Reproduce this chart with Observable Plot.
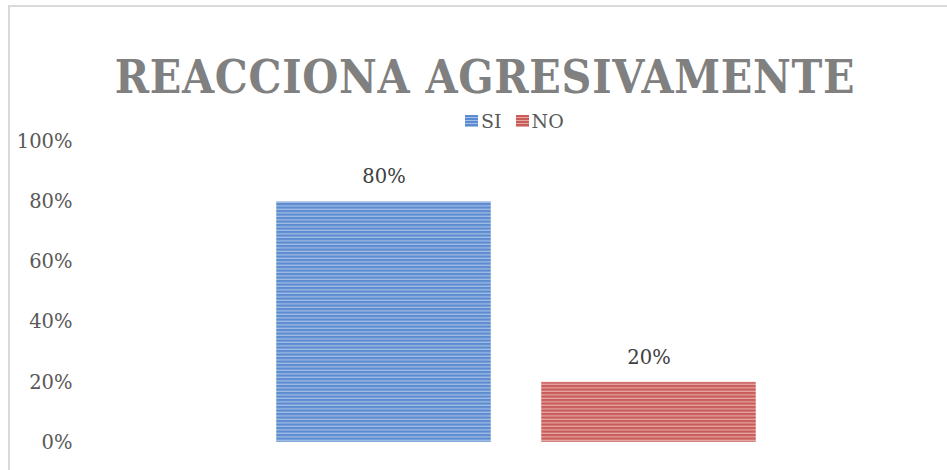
<!DOCTYPE html>
<html>
<head>
<meta charset="utf-8">
<script src="https://cdn.jsdelivr.net/npm/d3@7"></script>
<script src="https://cdn.jsdelivr.net/npm/@observablehq/plot@0.6"></script>
<style>
  html, body { margin: 0; padding: 0; background: #fff; }
  body { width: 947px; height: 470px; position: relative; overflow: hidden; font-family: "DejaVu Serif", serif; }
  #frame { position: absolute; left: 8px; top: 5px; width: 960px; height: 500px; border-left: 2px solid #d9d9d9; border-top: 2px solid #d9d9d9; box-sizing: border-box; }
  #title { position: absolute; left: 0; top: 50px; width: 970px; text-align: center; font-family: "DejaVu Serif Condensed", "DejaVu Serif", serif; font-weight: bold; font-size: 46px; letter-spacing: 0.7px; color: #808080; }
  #legend { position: absolute; top: 110px; left: 465px; font-size: 19px; color: #595959; display: flex; align-items: center; }
  #legend span.sw { display: inline-block; width: 13px; height: 12px; margin-right: 3px; }
  #legend span.lab { margin-right: 14px; }
  #chart { position: absolute; left: 0; top: 0; }
</style>
</head>
<body>
<div id="frame"></div>
<div id="title">REACCIONA AGRESIVAMENTE</div>
<div id="legend"></div>
<div id="chart"></div>
<script>
const series = ["SI", "NO"];
const values = [0.80, 0.20];
const labels = ["80%", "20%"];
const yTicks = [0, 0.2, 0.4, 0.6, 0.8, 1.0];
const baseColors = ["#5b8bd0", "#c95b58"];
const stripeColors = ["#a3bde4", "#e3a6a4"];

const data = series.map((s, i) => ({serie: s, value: values[i], label: labels[i]}));

const leg = document.getElementById("legend");
series.forEach((s, i) => {
  const sw = document.createElement("span");
  sw.className = "sw";
  sw.style.background = `repeating-linear-gradient(180deg, ${baseColors[i]} 0 2px, ${stripeColors[i]} 2px 3px)`;
  const lab = document.createElement("span");
  lab.className = "lab";
  lab.textContent = s;
  leg.appendChild(sw);
  leg.appendChild(lab);
});

const chart = Plot.plot({
  width: 947,
  height: 470,
  marginTop: 141,
  marginBottom: 28,
  marginLeft: 80,
  marginRight: 10,
  style: {background: "transparent", fontFamily: "DejaVu Serif, serif", fontSize: "19.5px", color: "#595959"},
  x: {domain: series, range: [275, 756], paddingInner: 0.189, paddingOuter: 0, axis: null},
  y: {domain: [0, 1], ticks: yTicks, tickFormat: d => Math.round(d * 100) + "%", tickSize: 0, tickPadding: 8, label: null},
  marks: [
    Plot.barY(data, {x: "serie", y: "value", fill: (d, i) => `url(#stripe-${d.serie})`, stroke: "#ffffff", strokeOpacity: 0.5, strokeWidth: 1}),
    Plot.text(data, {x: "serie", y: "value", text: "label", dy: -25, fill: "#404040", fontSize: 19.5})
  ]
});

// stripe patterns
const ns = "http://www.w3.org/2000/svg";
const defs = document.createElementNS(ns, "defs");
series.forEach((s, i) => {
  const p = document.createElementNS(ns, "pattern");
  p.setAttribute("id", "stripe-" + s);
  p.setAttribute("patternUnits", "userSpaceOnUse");
  p.setAttribute("width", "10");
  p.setAttribute("height", "3.5");
  const r1 = document.createElementNS(ns, "rect");
  r1.setAttribute("width", "10"); r1.setAttribute("height", "3.5"); r1.setAttribute("fill", baseColors[i]);
  const r2 = document.createElementNS(ns, "rect");
  r2.setAttribute("y", "2.2"); r2.setAttribute("width", "10"); r2.setAttribute("height", "1.3"); r2.setAttribute("fill", stripeColors[i]);
  p.appendChild(r1); p.appendChild(r2);
  defs.appendChild(p);
});
chart.insertBefore(defs, chart.firstChild);
document.getElementById("chart").appendChild(chart);
</script>
</body>
</html>
